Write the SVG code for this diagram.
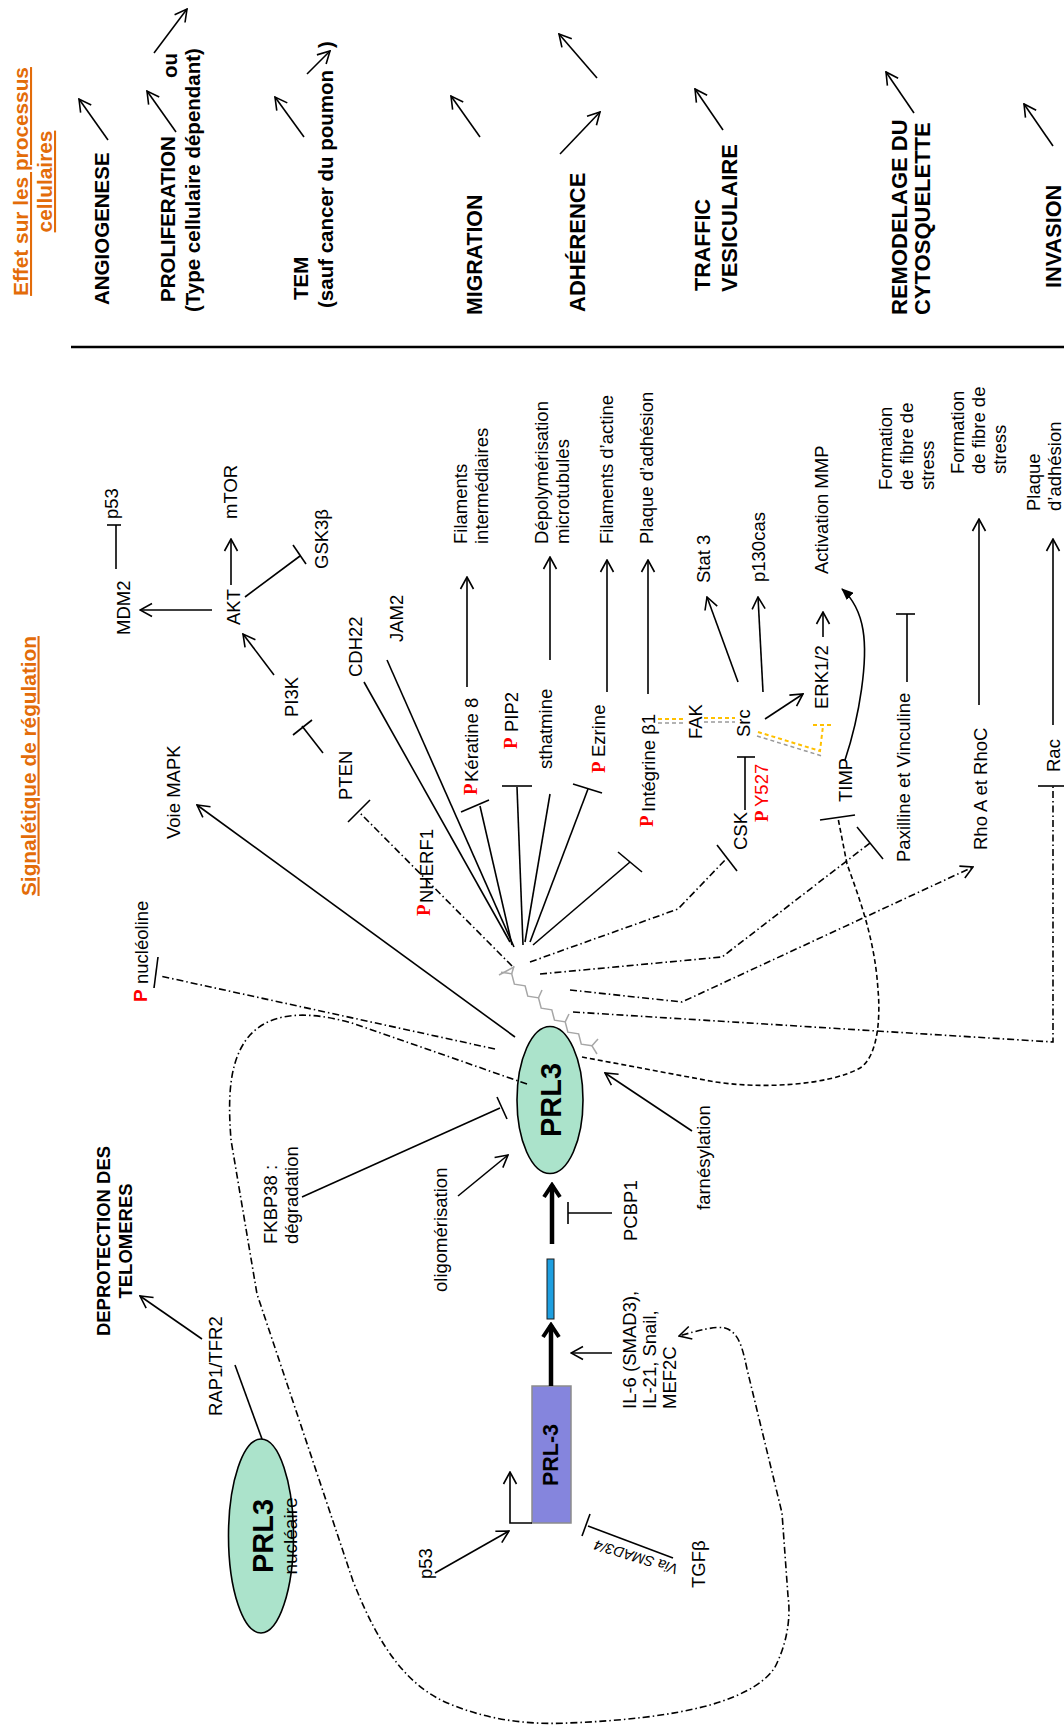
<svg xmlns="http://www.w3.org/2000/svg" width="1064" height="1726" viewBox="0 0 1064 1726">
<defs>
<style>
text{font-family:"Liberation Sans",Arial,sans-serif;fill:#000}
.t{font-size:18.5px}
.pr{font-size:20.5px;font-weight:bold}
.or{font-size:20.8px;font-weight:bold;fill:#E36C09;text-decoration:underline}
.rp{font-family:"Liberation Serif","Times New Roman",serif;font-weight:bold;font-size:19px;fill:#FF0000}
.rs{font-size:18.5px;fill:#FF0000}
.ln{stroke:#000;stroke-width:1.6;fill:none}
.ar{marker-end:url(#a)}
.dd{stroke-dasharray:7 3 1.5 3}
.ds{stroke-dasharray:5 3}
.yl{stroke:#FFC000;stroke-width:2;stroke-dasharray:4 3;fill:none}
.gy{stroke:#9A9A9A;stroke-width:1.5;stroke-dasharray:4 3;fill:none}
.chain{stroke:#A6A6A6;stroke-width:1.5;fill:none}
</style>
<marker id="a" viewBox="0 0 14 16" refX="13" refY="8" markerWidth="14" markerHeight="16" markerUnits="userSpaceOnUse" orient="auto"><path d="M1,1.5 L13,8 L1,14.5" fill="none" stroke="#000" stroke-width="1.6"/></marker>
<marker id="at" viewBox="0 0 18 20" refX="15" refY="10" markerWidth="18" markerHeight="20" markerUnits="userSpaceOnUse" orient="auto"><path d="M3,2 L15,10 L3,18" fill="none" stroke="#000" stroke-width="4"/></marker>
<marker id="af" viewBox="0 0 12 10" refX="11" refY="5" markerWidth="12" markerHeight="10" markerUnits="userSpaceOnUse" orient="auto"><path d="M0,0 L12,5 L0,10 z" fill="#000"/></marker>
</defs>
<rect width="1064" height="1726" fill="#fff"/>

<!-- Header -->
<g id="header-title">
<text class="or" text-anchor="middle" transform="translate(28,181.5) rotate(-90)">Effet sur les processus</text>
<text class="or" text-anchor="middle" transform="translate(52,181.5) rotate(-90)">cellulaires</text>
</g>
<g id="angiogenese"><text class="pr" transform="translate(109,305) rotate(-90)">ANGIOGENESE</text></g>
<g id="proliferation">
<text class="pr" transform="translate(175,302) rotate(-90)">PROLIFERATION</text>
<text class="pr" transform="translate(177,78) rotate(-90)">ou</text>
<text class="pr" transform="translate(200,312) rotate(-90)">(Type cellulaire dépendant)</text>
</g>
<g id="tem">
<text class="pr" transform="translate(308,300) rotate(-90)">TEM</text>
<text class="pr" transform="translate(333,308) rotate(-90)">(sauf cancer du poumon</text>
<text class="pr" transform="translate(333,48) rotate(-90)">)</text>
</g>
<g id="migration"><text class="pr" style="font-size:21.3px" transform="translate(482,315) rotate(-90)">MIGRATION</text></g>
<g id="adherence"><text class="pr" style="font-size:22px" transform="translate(585,312) rotate(-90)">ADHÉRENCE</text></g>
<g id="traffic">
<text class="pr" style="font-size:21.5px" transform="translate(710,291) rotate(-90)">TRAFFIC</text>
<text class="pr" style="font-size:22px" transform="translate(737,292) rotate(-90)">VESICULAIRE</text>
</g>
<g id="remodelage">
<text class="pr" style="font-size:22px" transform="translate(907,315) rotate(-90)">REMODELAGE DU</text>
<text class="pr" style="font-size:22px" transform="translate(930,315) rotate(-90)">CYTOSQUELETTE</text>
</g>
<g id="invasion"><text class="pr" style="font-size:21.7px" transform="translate(1061,288) rotate(-90)">INVASION</text></g>

<g id="header-arrows" class="ln">
<line class="ar" x1="108" y1="140" x2="79" y2="99"/>
<line class="ar" x1="176" y1="132" x2="147" y2="91"/>
<line class="ar" x1="154" y1="53" x2="187" y2="9"/>
<line class="ar" x1="304" y1="137" x2="275" y2="97"/>
<line class="ar" x1="307" y1="74" x2="330" y2="51"/>
<line class="ar" x1="480" y1="137" x2="451" y2="96"/>
<line class="ar" x1="597" y1="78" x2="559" y2="34"/>
<line class="ar" x1="560" y1="154" x2="600" y2="112"/>
<line class="ar" x1="723" y1="130" x2="695" y2="89"/>
<line class="ar" x1="914" y1="113" x2="886" y2="72"/>
<line class="ar" x1="1053" y1="146" x2="1024" y2="104"/>
<line x1="71" y1="347" x2="1064" y2="347" stroke-width="2.5"/>
</g>

<g id="signal-title"><text class="or" transform="translate(35.5,896) rotate(-90)">Signalétique de régulation</text></g>

<!-- Nodes -->
<g id="mdm2"><text class="t" transform="translate(130,635) rotate(-90)">MDM2</text></g>
<g id="p53-top"><text class="t" transform="translate(118,519) rotate(-90)">p53</text></g>
<g id="akt"><text class="t" transform="translate(240,625) rotate(-90)">AKT</text></g>
<g id="mtor"><text class="t" transform="translate(237,519) rotate(-90)">mTOR</text></g>
<g id="gsk3b"><text class="t" transform="translate(328,569) rotate(-90)">GSK3β</text></g>
<g id="pi3k"><text class="t" transform="translate(298,717) rotate(-90)">PI3K</text></g>
<g id="pten"><text class="t" transform="translate(352,800) rotate(-90)">PTEN</text></g>
<g id="mapk"><text class="t" transform="translate(180,839) rotate(-90)">Voie MAPK</text></g>
<g id="cdh22"><text class="t" transform="translate(362,677) rotate(-90)">CDH22</text></g>
<g id="jam2"><text class="t" transform="translate(403,642) rotate(-90)">JAM2</text></g>
<g id="keratine"><text class="rp" transform="translate(477,795) rotate(-90)">P</text><text class="t" transform="translate(478,782) rotate(-90)">Kératine 8</text></g>
<g id="filaments-int"><text class="t" transform="translate(467,544) rotate(-90)"><tspan x="0" y="0">Filaments</tspan><tspan x="0" y="21">intermédiaires</tspan></text></g>
<g id="pip2"><text class="rp" transform="translate(517,749) rotate(-90)">P</text><text class="t" transform="translate(518,732) rotate(-90)">PIP2</text></g>
<g id="sthatmine"><text class="t" transform="translate(552,769) rotate(-90)">sthatmine</text></g>
<g id="depoly"><text class="t" transform="translate(548,544) rotate(-90)"><tspan x="0" y="0">Dépolymérisation</tspan><tspan x="0" y="20.5">microtubules</tspan></text></g>
<g id="ezrine"><text class="rp" transform="translate(605,773) rotate(-90)">P</text><text class="t" transform="translate(605,757) rotate(-90)">Ezrine</text></g>
<g id="fil-actine"><text class="t" transform="translate(613,544) rotate(-90)">Filaments d’actine</text></g>
<g id="integrine"><text class="rp" transform="translate(653,827) rotate(-90)">P</text><text class="t" transform="translate(655,812) rotate(-90)">Intégrine β1</text></g>
<g id="plaque1"><text class="t" transform="translate(653,544) rotate(-90)">Plaque d’adhésion</text></g>
<g id="fak"><text class="t" transform="translate(702,739) rotate(-90)">FAK</text></g>
<g id="stat3"><text class="t" transform="translate(710,583) rotate(-90)">Stat 3</text></g>
<g id="src"><text class="t" transform="translate(750,737) rotate(-90)">Src</text></g>
<g id="p130cas"><text class="t" transform="translate(765,582) rotate(-90)">p130cas</text></g>
<g id="erk"><text class="t" transform="translate(828,709) rotate(-90)">ERK1/2</text></g>
<g id="mmp"><text class="t" transform="translate(828,574) rotate(-90)">Activation MMP</text></g>
<g id="csk"><text class="t" transform="translate(747,850) rotate(-90)">CSK</text></g>
<g id="py527"><text class="rp" transform="translate(768,822) rotate(-90)">P</text><text class="rs" transform="translate(768,807) rotate(-90)">Y527</text></g>
<g id="timp"><text class="t" transform="translate(852,802) rotate(-90)">TIMP</text></g>
<g id="paxilline"><text class="t" transform="translate(910,862) rotate(-90)">Paxilline et Vinculine</text></g>
<g id="fibre1"><text class="t" transform="translate(892,490) rotate(-90)"><tspan x="0" y="0">Formation</tspan><tspan x="0" y="21">de fibre de</tspan><tspan x="0" y="42">stress</tspan></text></g>
<g id="fibre2"><text class="t" transform="translate(964,474) rotate(-90)"><tspan x="0" y="0">Formation</tspan><tspan x="0" y="21">de fibre de</tspan><tspan x="0" y="42">stress</tspan></text></g>
<g id="rho"><text class="t" transform="translate(987,850) rotate(-90)">Rho A et RhoC</text></g>
<g id="plaque2"><text class="t" transform="translate(1040,511) rotate(-90)"><tspan x="0" y="0">Plaque</tspan><tspan x="0" y="21">d’adhésion</tspan></text></g>
<g id="rac"><text class="t" transform="translate(1060,772) rotate(-90)">Rac</text></g>
<g id="nucleoline"><text style="font-size:19px;font-weight:bold;fill:#FF0000" transform="translate(147,1002) rotate(-90)">P</text><text class="t" transform="translate(148,984) rotate(-90)">nucléoline</text></g>
<g id="nherf1"><text class="rp" transform="translate(430,916) rotate(-90)">P</text><text class="t" transform="translate(433,903) rotate(-90)">NHERF1</text></g>
<g id="fkbp38"><text class="t" transform="translate(277,1244) rotate(-90)"><tspan x="0" y="0">FKBP38 :</tspan><tspan x="0" y="20.5">dégradation</tspan></text></g>
<g id="oligo"><text class="t" transform="translate(447,1292) rotate(-90)">oligomérisation</text></g>
<g id="prl3">
<ellipse cx="550" cy="1100" rx="33" ry="73.5" fill="#ABE3CB" stroke="#000" stroke-width="1.6"/>
<text style="font-size:29px;font-weight:bold" text-anchor="middle" transform="translate(561,1100) rotate(-90)">PRL3</text>
</g>
<g id="pcbp1"><text class="t" transform="translate(637,1241) rotate(-90)">PCBP1</text></g>
<g id="farnesylation"><text class="t" transform="translate(710,1210) rotate(-90)">farnésylation</text></g>
<g id="mrna"><rect x="547" y="1259" width="7" height="60" fill="#1E9FE0" stroke="#1a1a1a" stroke-width="1"/></g>
<g id="il6"><text class="t" transform="translate(636,1409) rotate(-90)"><tspan x="0" y="0">IL-6 (SMAD3),</tspan><tspan x="0" y="20">IL-21, Snail,</tspan><tspan x="0" y="40">MEF2C</tspan></text></g>
<g id="prl3-gene">
<rect x="532" y="1386" width="39" height="137" fill="#8585DD" stroke="#8C8C8C" stroke-width="1.5"/>
<text style="font-size:21.5px;font-weight:bold" text-anchor="middle" transform="translate(558,1455) rotate(-90)">PRL-3</text>
</g>
<g id="p53-bottom"><text class="t" transform="translate(432,1579) rotate(-90)">p53</text></g>
<g id="tgfb"><text class="t" transform="translate(705,1588) rotate(-90)">TGFβ</text></g>
<g id="via-smad"><text style="font-size:14.5px;font-style:italic" transform="translate(679,1565) rotate(197)">Via SMAD3/4</text></g>
<g id="rap1"><text class="t" transform="translate(222,1416) rotate(-90)">RAP1/TFR2</text></g>
<g id="deprotection"><text style="font-size:18.5px;font-weight:bold" text-anchor="middle" transform="translate(110,1241) rotate(-90)"><tspan x="0" y="0">DEPROTECTION DES</tspan><tspan x="0" y="22">TELOMERES</tspan></text></g>
<g id="prl3-nucleaire">
<ellipse cx="261" cy="1536" rx="32.5" ry="97" fill="#ABE3CB" stroke="#000" stroke-width="1.6"/>
<text style="font-size:29px;font-weight:bold" text-anchor="middle" transform="translate(273,1536) rotate(-90)">PRL3</text>
<text style="font-size:19px" text-anchor="middle" transform="translate(297,1536) rotate(-90)">nucléaire</text>
</g>
<g id="farnesyl-chain" class="chain">
<polyline points="501,972.2 511.7,973.8 514.4,984.2 525.1,985.8 527.8,996.2 538.5,997.8 541.2,1008.2 551.8,1009.8 554.5,1020.2 565.2,1021.8 567.9,1032.2 578.6,1033.8 581.3,1044.2 592,1045.8"/>
<line x1="499" y1="975" x2="514" y2="967"/>
<line x1="511.7" y1="973.8" x2="514" y2="966"/>
<line x1="538.5" y1="997.8" x2="542" y2="990"/>
<line x1="565.2" y1="1021.8" x2="569" y2="1014"/>
<line x1="592" y1="1045.8" x2="598" y2="1039"/>
<line x1="592" y1="1045.8" x2="597" y2="1054"/>
</g>

<!-- Connectors -->
<g id="connectors" class="ln">
<line x1="116" y1="569" x2="116" y2="525"/>
<line x1="107" y1="525" x2="121" y2="525"/>
<line class="ar" x1="212" y1="610" x2="140" y2="610"/>
<line class="ar" x1="231" y1="585" x2="231" y2="539"/>
<line x1="245" y1="597" x2="300" y2="556"/>
<line x1="293" y1="545" x2="306" y2="564"/>
<line class="ar" x1="274" y1="675" x2="243" y2="634"/>
<line x1="323" y1="753" x2="302" y2="726"/>
<line x1="293" y1="735" x2="312" y2="720"/>
<line class="ar" x1="515" y1="1037" x2="197" y2="805"/>
<line x1="364" y1="682" x2="510" y2="942"/>
<line x1="387" y1="660" x2="514" y2="947"/>
<line x1="480" y1="806" x2="512" y2="945"/>
<line x1="461" y1="812" x2="489" y2="800"/>
<line class="ar" x1="467" y1="687" x2="467" y2="577"/>
<line x1="517" y1="787" x2="523" y2="945"/>
<line x1="502" y1="786" x2="532" y2="786"/>
<line x1="550" y1="794" x2="525" y2="942"/>
<line class="ar" x1="550" y1="660" x2="550" y2="557"/>
<line x1="588" y1="789" x2="530" y2="942"/>
<line x1="573" y1="784" x2="602" y2="793"/>
<line class="ar" x1="607" y1="692" x2="607" y2="560"/>
<line x1="630" y1="862" x2="533" y2="945"/>
<line x1="618" y1="852" x2="642" y2="872"/>
<line class="ar" x1="648" y1="694" x2="648" y2="560"/>
<line class="ar" x1="738" y1="682" x2="707" y2="597"/>
<line class="ar" x1="763" y1="692" x2="758" y2="597"/>
<line class="ar" x1="765" y1="719" x2="803" y2="694"/>
<line class="ar" x1="823" y1="637" x2="823" y2="612"/>
<path d="M845,760 C860,715 868,660 863,630 C860,612 852,598 842,589" marker-end="url(#af)"/>
<line x1="745" y1="810" x2="745" y2="757"/>
<line x1="737" y1="757" x2="755" y2="757"/>
<line x1="907" y1="682" x2="907" y2="614"/>
<line x1="896" y1="614" x2="915" y2="614"/>
<line class="ar" x1="979" y1="705" x2="979" y2="519"/>
<line class="ar" x1="1053" y1="725" x2="1053" y2="539"/>
<line x1="262" y1="1439" x2="235" y2="1365"/>
<line class="ar" x1="202" y1="1339" x2="140" y2="1296"/>
<line x1="302" y1="1197" x2="500" y2="1108"/>
<line x1="497" y1="1097" x2="507" y2="1119"/>
<line class="ar" x1="458" y1="1196" x2="508" y2="1155"/>
<line class="ar" x1="692" y1="1131" x2="605" y2="1073"/>
<line x1="612" y1="1213" x2="568" y2="1213"/>
<line x1="568" y1="1202" x2="568" y2="1224"/>
<line x1="552" y1="1244" x2="552" y2="1185" stroke-width="4.5" marker-end="url(#at)"/>
<line x1="551" y1="1386" x2="551" y2="1325" stroke-width="4.5" marker-end="url(#at)"/>
<line class="ar" x1="612" y1="1353" x2="571" y2="1353"/>
<path class="ar" d="M532,1523 H510 V1472"/>
<line class="ar" x1="435" y1="1573" x2="509" y2="1531"/>
<line x1="673" y1="1558" x2="588" y2="1526"/>
<line x1="582" y1="1536" x2="590" y2="1514"/>

<line class="dd" x1="495" y1="1049" x2="160" y2="976"/>
<line x1="158" y1="957" x2="154" y2="988"/>
<line class="dd" x1="512" y1="966" x2="360" y2="813"/>
<line x1="348" y1="822" x2="370" y2="800"/>
<polyline class="dd" points="530,962 678,909 727,858"/>
<line x1="717" y1="845" x2="737" y2="871"/>
<polyline class="dd" points="540,974 722,957 870,843"/>
<line x1="857" y1="827" x2="883" y2="859"/>
<polyline class="dd ar" points="570,990 682,1002 973,867"/>
<polyline class="dd" points="573,1012 1053,1042 1053,786"/>
<line x1="1038" y1="786" x2="1064" y2="786"/>
<path class="ds" d="M582,1057 L710,1081 C760,1090 830,1085 860,1068 C880,1055 880,1010 878,990 C875,940 860,900 847,864 L838,818"/>
<line x1="820" y1="820" x2="855" y2="815"/>
<path class="dd ar" d="M527,1084 L355,1024 C318,1013 275,1008 250,1035 C228,1060 228,1100 231,1140 L257,1294 L353,1581 C380,1650 410,1690 455,1706 C490,1720 530,1725 568,1723 C620,1721 670,1716 710,1705 C745,1695 770,1680 777,1663 C790,1635 790,1610 788,1596 L782,1513 L747,1369 C742,1345 738,1332 725,1328 C715,1326 700,1330 679,1336"/>
</g>
<g id="yellow-links">
<line class="yl" x1="658" y1="719" x2="686" y2="719"/>
<line class="gy" x1="658" y1="723" x2="686" y2="723"/>
<line class="yl" x1="704" y1="718" x2="735" y2="718"/>
<line class="gy" x1="704" y1="722" x2="735" y2="722"/>
<polyline class="yl" points="758,732 820,751 823,726"/>
<polyline class="gy" points="757,736 822,756"/>
<line class="yl" x1="813" y1="725" x2="831" y2="725"/>
</g>
</svg>
